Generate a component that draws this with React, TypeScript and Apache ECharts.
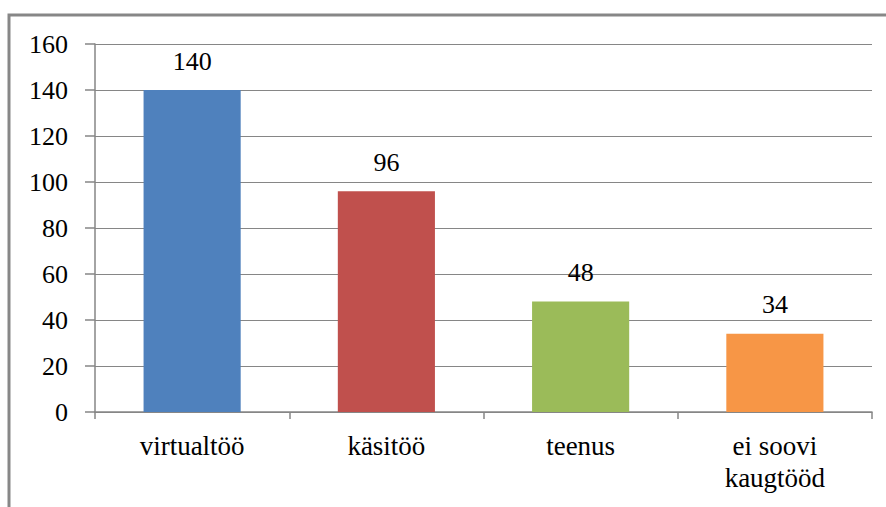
import React, { useEffect, useRef } from "react";
import * as echarts from "echarts";

const categories = ["virtualtöö", "käsitöö", "teenus", "ei soovi\nkaugtööd"];
const values = [140, 96, 48, 34];
const barColors = ["#4F81BD", "#C0504D", "#9BBB59", "#F79646"];
const yTicks = { min: 0, max: 160, interval: 20 };

export default function App() {
  const ref = useRef<HTMLDivElement>(null);
  useEffect(() => {
    if (!ref.current) return;
    const chart = echarts.init(ref.current, undefined, { renderer: "svg" });
    const font = "Times New Roman, Liberation Serif, serif";
    chart.setOption({
      animation: false,
      backgroundColor: "#ffffff",
      textStyle: { fontFamily: font },
      graphic: [
        {
          type: "rect",
          shape: { x: 9, y: 15, width: 920, height: 600 },
          style: { fill: "none", stroke: "#878787", lineWidth: 3 },
          silent: true,
        },
      ],
      grid: { left: 95, right: 14, top: 44, bottom: 95, containLabel: false },
      xAxis: {
        type: "category",
        data: categories,
        axisLine: { show: true, lineStyle: { color: "#868686", width: 1.5 } },
        axisTick: { show: true, length: 7, lineStyle: { color: "#868686", width: 1.5 } },
        axisLabel: {
          color: "#000",
          fontFamily: font,
          fontSize: 27,
          margin: 18,
          lineHeight: 32,
          interval: 0,
        },
      },
      yAxis: {
        type: "value",
        min: yTicks.min,
        max: yTicks.max,
        interval: yTicks.interval,
        axisLine: { show: true, lineStyle: { color: "#868686", width: 1.5 } },
        axisTick: { show: true, length: 10, lineStyle: { color: "#868686", width: 1.5 } },
        splitLine: { show: true, lineStyle: { color: "#868686", width: 1 } },
        axisLabel: {
          color: "#000",
          fontFamily: font,
          fontSize: 26,
          margin: 27,
        },
      },
      series: [
        {
          type: "bar",
          barWidth: "50%",
          data: values.map((v, i) => ({ value: v, itemStyle: { color: barColors[i] } })),
          label: {
            show: true,
            position: "top",
            distance: 16,
            color: "#000",
            fontFamily: font,
            fontSize: 26,
          },
        },
      ],
    });
    return () => chart.dispose();
  }, []);
  return (
    <div
      ref={ref}
      style={{ position: "fixed", left: 0, top: 0, width: 886, height: 507 }}
    />
  );
}
